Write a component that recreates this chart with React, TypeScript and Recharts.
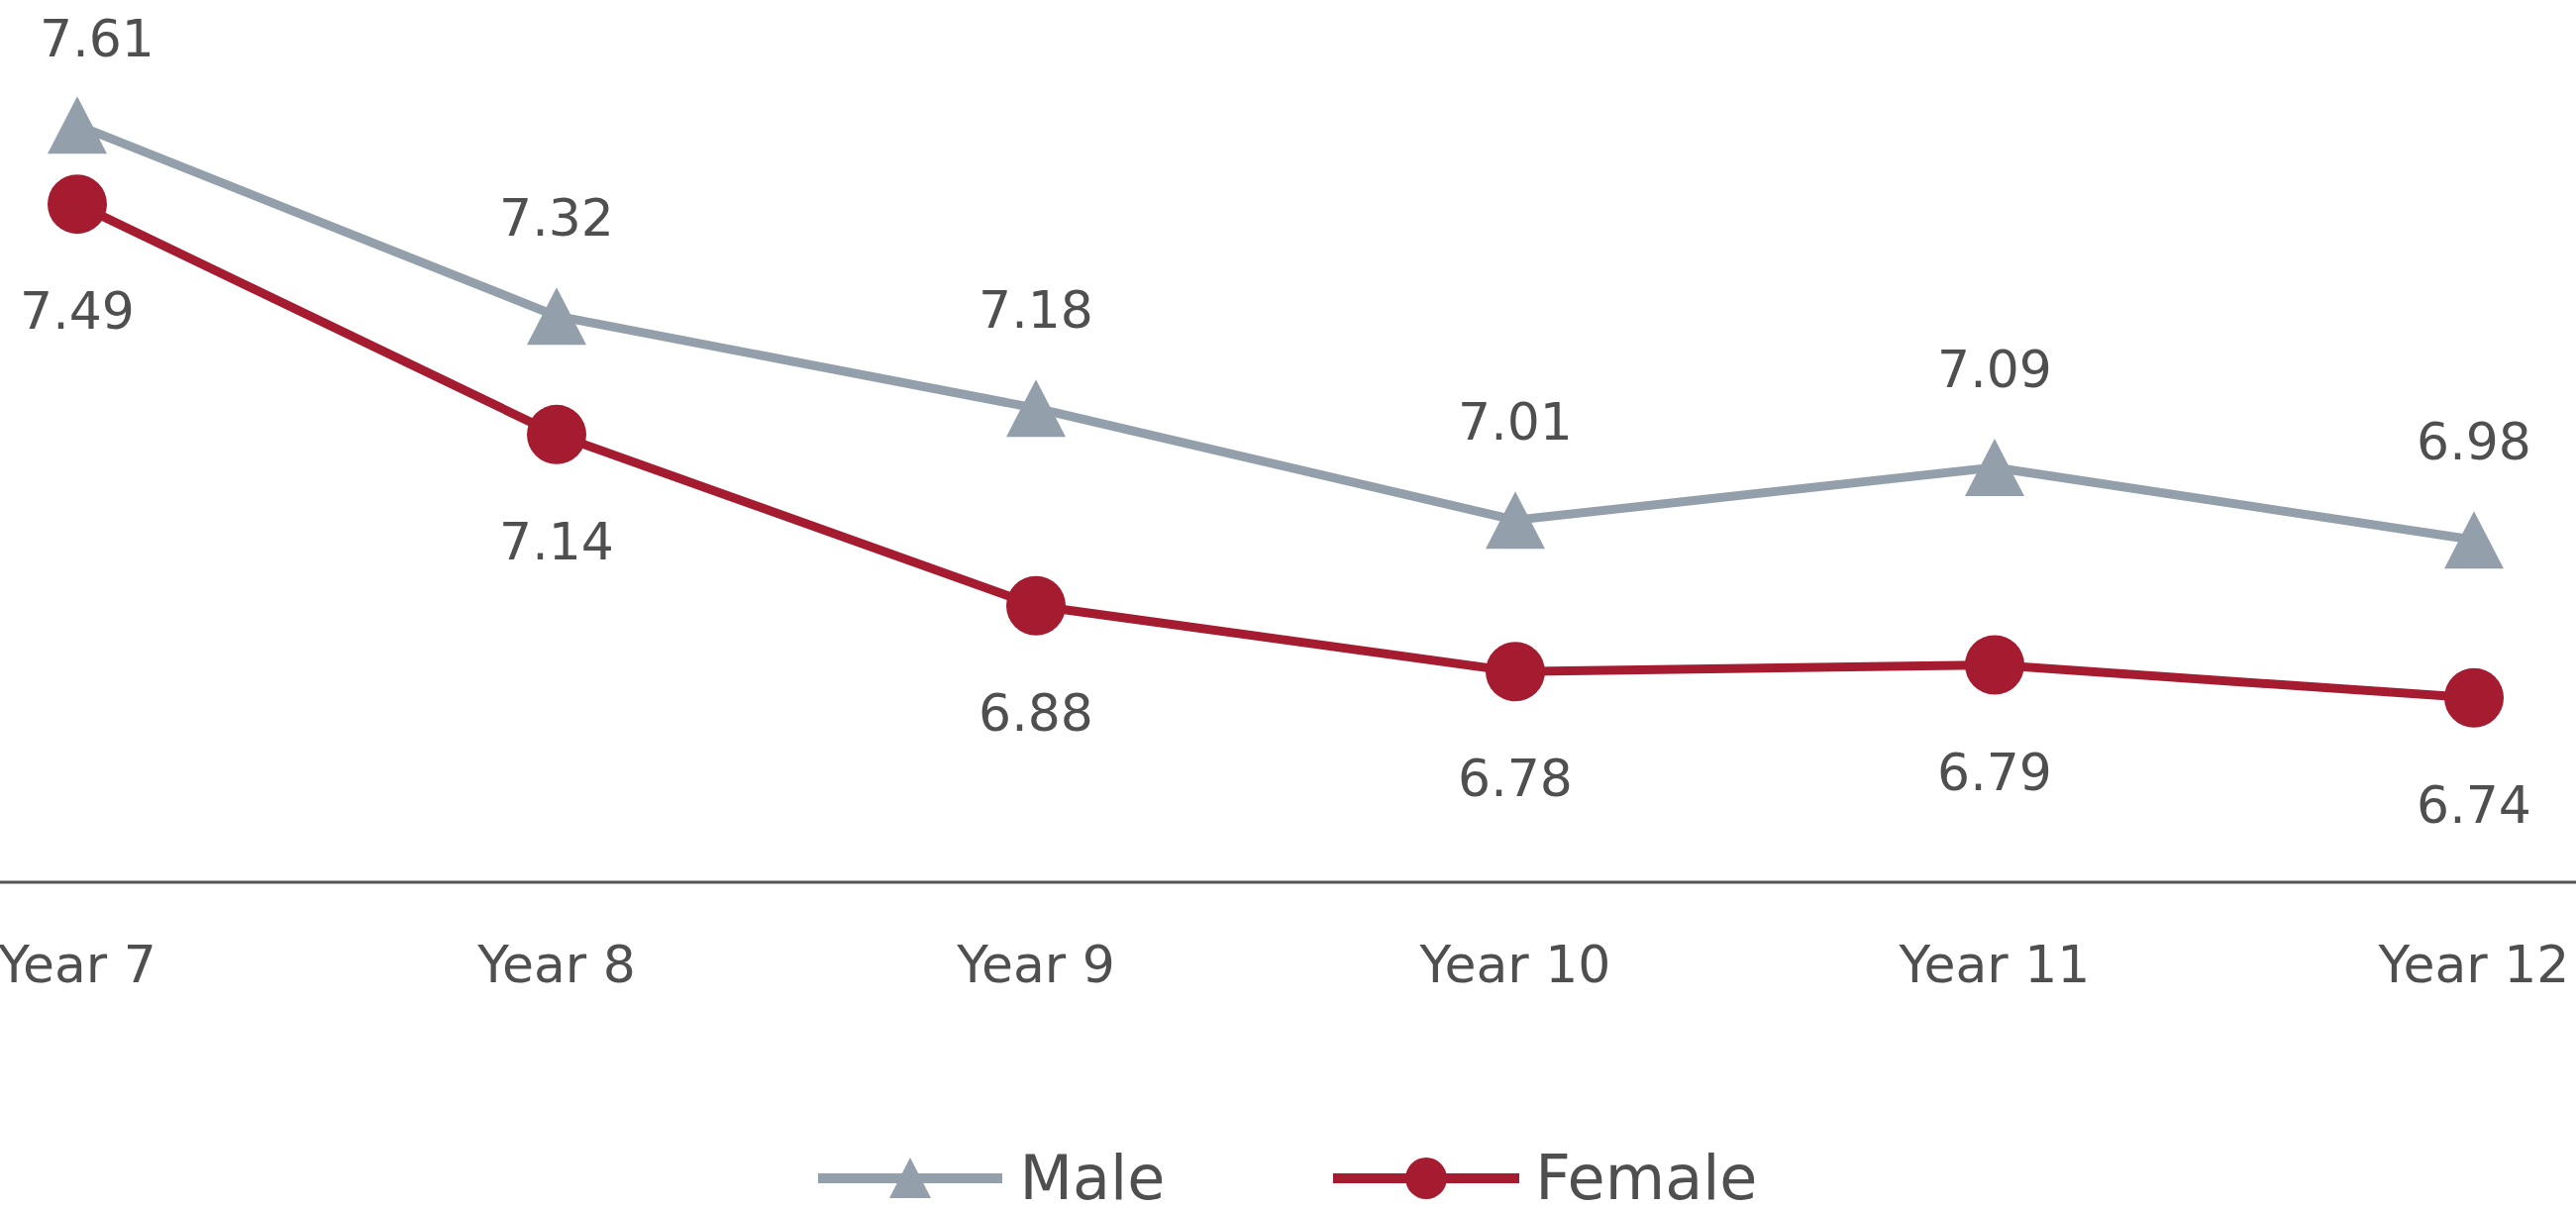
import React from 'react';
import { LineChart, Line, XAxis, YAxis, LabelList, Legend } from 'recharts';

const categories = ['Year 7', 'Year 8', 'Year 9', 'Year 10', 'Year 11', 'Year 12'];
const maleValues = [7.61, 7.32, 7.18, 7.01, 7.09, 6.98];
const femaleValues = [7.49, 7.14, 6.88, 6.78, 6.79, 6.74];
const seriesNames = ['Male', 'Female'];

const MALE_COLOR = '#93a0ac';
const FEMALE_COLOR = '#a51c30';
const TEXT_COLOR = '#4f4f4f';
const FONT = '"DejaVu Sans", sans-serif';

const data = categories.map((c, i) => ({ category: c, male: maleValues[i], female: femaleValues[i] }));

const TriangleDot = (props: any) => {
  const { cx, cy, index } = props;
  if (cx == null || cy == null) return null;
  const hw = 30;
  const hh = 29;
  return (
    <path
      key={`tri-${index}`}
      d={`M${cx},${cy - hh} L${cx + hw},${cy + hh} L${cx - hw},${cy + hh} Z`}
      fill={MALE_COLOR}
    />
  );
};

const CircleDot = (props: any) => {
  const { cx, cy, index } = props;
  if (cx == null || cy == null) return null;
  return <circle key={`cir-${index}`} cx={cx} cy={cy} r={30} fill={FEMALE_COLOR} />;
};

const capHalf = 19;

const MaleLabel = (props: any) => {
  const { x, y, value } = props;
  const clamped = y - 100 < 38;
  const cyText = clamped ? 38 : y - 100;
  const xText = clamped ? x + 20 : x;
  return (
    <text x={xText} y={cyText + capHalf} textAnchor="middle" fill={TEXT_COLOR} fontSize={52} fontFamily={FONT}>
      {Number(value).toFixed(2)}
    </text>
  );
};

const FemaleLabel = (props: any) => {
  const { x, y, value } = props;
  const cyText = y + 107;
  return (
    <text x={x} y={cyText + capHalf} textAnchor="middle" fill={TEXT_COLOR} fontSize={52} fontFamily={FONT}>
      {Number(value).toFixed(2)}
    </text>
  );
};

const LegendContent = () => (
  <div
    style={{
      display: 'flex',
      justifyContent: 'center',
      alignItems: 'center',
      height: 80,
      fontFamily: FONT,
      fontSize: 62,
      color: TEXT_COLOR,
      lineHeight: 1,
    }}
  >
    <svg width={186} height={60} style={{ display: 'block' }}>
      <line x1={0} y1={30} x2={186} y2={30} stroke={MALE_COLOR} strokeWidth={10} />
      <path d="M93,9 L114,50 L72,50 Z" fill={MALE_COLOR} />
    </svg>
    <span style={{ marginLeft: 17 }}>{seriesNames[0]}</span>
    <svg width={188} height={60} style={{ display: 'block', marginLeft: 170 }}>
      <line x1={0} y1={30} x2={188} y2={30} stroke={FEMALE_COLOR} strokeWidth={10} />
      <circle cx={94} cy={30} r={21} fill={FEMALE_COLOR} />
    </svg>
    <span style={{ marginLeft: 16 }}>{seriesNames[1]}</span>
  </div>
);

export default function App() {
  return (
    <div style={{ position: 'absolute', left: 0, top: 0, background: '#fff' }}>
      <LineChart width={2601} height={1221} data={data} margin={{ top: 10, right: 0, left: 0, bottom: 0 }}>
        <XAxis
          dataKey="category"
          height={330}
          padding={{ left: 78, right: 103 }}
          axisLine={{ stroke: '#555555', strokeWidth: 3 }}
          tickLine={false}
          tickSize={0}
          tickMargin={64}
          tick={{ fill: TEXT_COLOR, fontSize: 52, fontFamily: FONT }}
          interval={0}
        />
        <YAxis hide domain={[6.46, 7.785]} allowDataOverflow type="number" />
        <Legend
          layout="horizontal"
          verticalAlign="middle"
          align="center"
          content={<LegendContent />}
          wrapperStyle={{ top: 1150, left: 0, width: 2601, height: 80 }}
        />
        <Line
          type="linear"
          dataKey="male"
          name={seriesNames[0]}
          stroke={MALE_COLOR}
          strokeWidth={9}
          dot={TriangleDot}
          activeDot={false}
          isAnimationActive={false}
        >
          <LabelList dataKey="male" content={MaleLabel} />
        </Line>
        <Line
          type="linear"
          dataKey="female"
          name={seriesNames[1]}
          stroke={FEMALE_COLOR}
          strokeWidth={9}
          dot={CircleDot}
          activeDot={false}
          isAnimationActive={false}
        >
          <LabelList dataKey="female" content={FemaleLabel} />
        </Line>
      </LineChart>
    </div>
  );
}
